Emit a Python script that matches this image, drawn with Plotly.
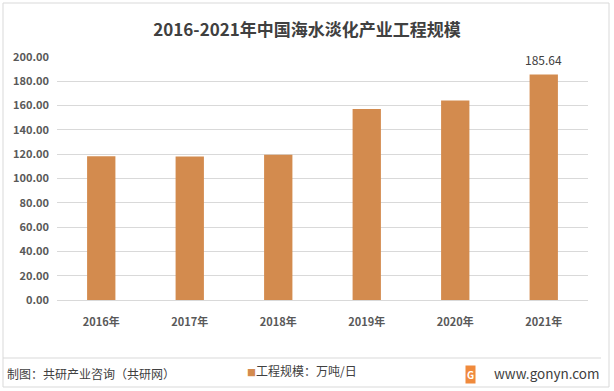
import plotly.graph_objects as go

years = ["2016年", "2017年", "2018年", "2019年", "2020年", "2021年"]
values = [118.3, 118.2, 119.6, 157.3, 164.2, 185.64]
y_ticks = [0, 20, 40, 60, 80, 100, 120, 140, 160, 180, 200]
series_name = "工程规模：万吨/日"

W, H = 614, 391
L, R, T, B = 57, 26, 57, 91
pw, ph = W - L - R, H - T - B

def px(x):
    return (x - L) / pw

def py(y):
    return (H - B - y) / ph

CJK = "Noto Sans CJK SC"
bar_color = "#D38B4E"

fig = go.Figure()
fig.add_trace(go.Bar(
    x=years, y=values, name=series_name,
    marker=dict(color=bar_color, line=dict(width=0)),
    showlegend=False,
))

# data label on the last bar
fig.add_annotation(x=years[-1], y=values[-1], xref="x", yref="y",
                   text=f"{values[-1]:.2f}", showarrow=False,
                   yanchor="bottom", yshift=4,
                   font=dict(family=CJK, size=12, color="#404040"))

fig.update_layout(
    width=W, height=H,
    margin=dict(l=L, r=R, t=T, b=B, autoexpand=False),
    paper_bgcolor="white", plot_bgcolor="white",
    bargap=0.68,
    title=dict(text="<b>2016-2021年中国海水淡化产业工程规模</b>",
               x=0.5, xanchor="center", y=1 - 30 / H, yanchor="middle",
               font=dict(family=CJK, size=17, color="#404040")),
    xaxis=dict(showgrid=False, showline=True, linecolor="#D9D9D9", linewidth=1,
               ticks="", ticklabelstandoff=12,
               tickfont=dict(family=CJK, size=11, color="#595959"),
               tickprefix="<b>", ticksuffix="</b>"),
    yaxis=dict(range=[0, 200], tickvals=y_ticks,
               ticktext=[f"<b>{v:.2f}</b>" for v in y_ticks],
               showgrid=True, gridcolor="#D9D9D9", gridwidth=1,
               zeroline=False, showline=False, ticks="", ticklabelstandoff=7,
               tickfont=dict(family=CJK, size=11, color="#595959")),
    showlegend=False,
)

# outer border
fig.add_shape(type="rect", xref="paper", yref="paper",
              x0=px(3), x1=px(609), y0=py(387), y1=py(3),
              line=dict(color="#D9D9D9", width=1), fillcolor="rgba(0,0,0,0)", layer="below")
# footer separator
fig.add_shape(type="line", xref="paper", yref="paper",
              x0=px(3), x1=px(601), y0=py(358), y1=py(358),
              line=dict(color="#D9D9D9", width=1))

# legend (drawn as text)
fig.add_annotation(xref="paper", yref="paper", x=px(302), y=py(370),
                   xanchor="center", yanchor="middle", showarrow=False,
                   text=f"<span style='color:{bar_color};font-size:9px'>■</span>{series_name}",
                   font=dict(family=CJK, size=12, color="#404040"))

fig.add_annotation(xref="paper", yref="paper", x=px(5), y=py(373),
                   xanchor="left", yanchor="middle", showarrow=False,
                   text="制图：共研产业咨询（共研网）",
                   font=dict(family=CJK, size=12, color="#404040"))
fig.add_annotation(xref="paper", yref="paper", x=px(602), y=py(373),
                   xanchor="right", yanchor="middle", showarrow=False,
                   text="www.gonyn.com",
                   font=dict(family=CJK, size=13.5, color="#404040"))
fig.add_annotation(xref="paper", yref="paper", x=px(470), y=py(374),
                   xanchor="center", yanchor="middle", showarrow=False,
                   text="<b>G</b>", bgcolor="#F08A3C", borderpad=1,
                   font=dict(family=CJK, size=10, color="white"))

fig.write_html("out.html")
